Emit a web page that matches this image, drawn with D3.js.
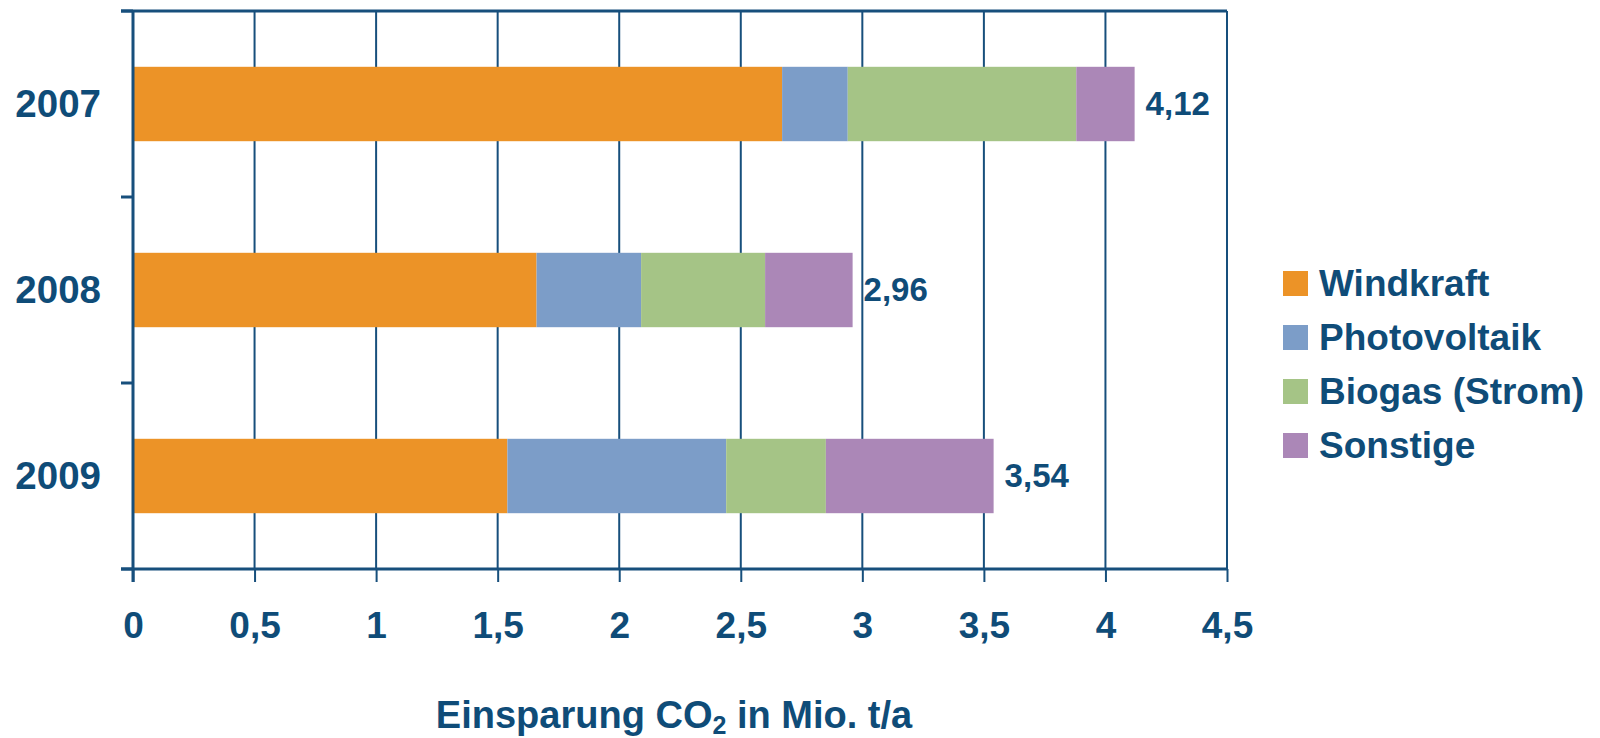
<!DOCTYPE html>
<html>
<head>
<meta charset="utf-8">
<script src="https://cdn.jsdelivr.net/npm/d3@7"></script>
<style>
  html, body { margin: 0; padding: 0; background: #ffffff; }
  svg { display: block; }
  text { font-family: "Liberation Sans", Arial, sans-serif; font-weight: bold; fill: #0f4c78; }
</style>
</head>
<body>
<svg id="chart" width="1600" height="738"></svg>
<script>
// Years shown on the vertical axis
const categories = ["2007", "2008", "2009"];
// CO2 savings per source, million t/a
const seriesNames = ["Windkraft", "Photovoltaik", "Biogas (Strom)", "Sonstige"];
const windkraft    = [2.67, 1.66, 1.54];
const photovoltaik = [0.27, 0.43, 0.90];
const biogas       = [0.94, 0.51, 0.41];
const sonstige     = [0.24, 0.36, 0.69];
// Total per year, printed at the end of each bar
const totals = [4.12, 2.96, 3.54];
// Horizontal axis ticks
const xTicks = [0, 0.5, 1, 1.5, 2, 2.5, 3, 3.5, 4, 4.5];
const seriesColors = ["#ec9327", "#7c9dc8", "#a5c486", "#ab87b7"];

const lineColor = "#174f7c";
const deLocale = d3.formatLocale({ decimal: ",", thousands: ".", grouping: [3], currency: ["", " €"] });
const fmtTick = v => deLocale.format("~g")(v);
const fmtTotal = deLocale.format(".2f");

const rows = categories.map((c, i) => ({
  year: c,
  "Windkraft": windkraft[i],
  "Photovoltaik": photovoltaik[i],
  "Biogas (Strom)": biogas[i],
  "Sonstige": sonstige[i]
}));

const plot = { left: 133, right: 1227, top: 11, bottom: 569 };
const svg = d3.select("#chart");

const x = d3.scaleLinear().domain([0, 4.5]).range([plot.left, plot.right]);
const y = d3.scaleBand().domain(categories).range([plot.top, plot.bottom])
  .paddingInner(0.6).paddingOuter(0.3);
const color = d3.scaleOrdinal().domain(seriesNames).range(seriesColors);

// Vertical grid lines
svg.append("g").selectAll("line").data(xTicks.slice(1)).join("line")
  .attr("x1", d => x(d)).attr("x2", d => x(d))
  .attr("y1", plot.top).attr("y2", plot.bottom)
  .attr("stroke", lineColor).attr("stroke-width", 2);

// Top frame line
svg.append("line")
  .attr("x1", plot.left - 12).attr("x2", plot.right)
  .attr("y1", plot.top).attr("y2", plot.top)
  .attr("stroke", lineColor).attr("stroke-width", 3);

// Stacked bars
const stacked = d3.stack().keys(seriesNames)(rows);
svg.append("g").selectAll("g").data(stacked).join("g")
  .attr("fill", d => color(d.key))
  .selectAll("rect").data(d => d).join("rect")
  .attr("x", d => x(d[0]))
  .attr("width", d => x(d[1]) - x(d[0]))
  .attr("y", d => y(d.data.year))
  .attr("height", y.bandwidth());

// Total labels
svg.append("g").selectAll("text").data(categories).join("text")
  .attr("x", (d, i) => x(totals[i]) + 11)
  .attr("y", d => y(d) + y.bandwidth() / 2)
  .attr("dy", "0.33em")
  .attr("font-size", 33)
  .text((d, i) => fmtTotal(totals[i]));

// Bottom axis
const xAxis = d3.axisBottom(x).tickValues(xTicks).tickFormat(fmtTick)
  .tickSizeInner(13).tickSizeOuter(0).tickPadding(30);
const gx = svg.append("g").attr("transform", `translate(0,${plot.bottom})`).call(xAxis);
gx.select(".domain").remove();
gx.selectAll(".tick line").attr("stroke", lineColor).attr("stroke-width", 2);
gx.selectAll(".tick text").attr("font-size", 37).attr("fill", "#0f4c78")
  .attr("font-family", "Liberation Sans, Arial, sans-serif").attr("font-weight", "bold")
  .attr("dy", "0.71em");
svg.append("line")
  .attr("x1", plot.left - 12).attr("x2", plot.right)
  .attr("y1", plot.bottom).attr("y2", plot.bottom)
  .attr("stroke", lineColor).attr("stroke-width", 3);

// Left axis with ticks between categories
const catEdges = d3.range(categories.length + 1).map(i => plot.top + i * (plot.bottom - plot.top) / categories.length);
svg.append("g").selectAll("line").data(catEdges).join("line")
  .attr("x1", plot.left - 12).attr("x2", plot.left)
  .attr("y1", d => d).attr("y2", d => d)
  .attr("stroke", lineColor).attr("stroke-width", 3);
svg.append("line")
  .attr("x1", plot.left).attr("x2", plot.left)
  .attr("y1", plot.top).attr("y2", plot.bottom + 13)
  .attr("stroke", lineColor).attr("stroke-width", 3);

// Year labels
svg.append("g").selectAll("text").data(categories).join("text")
  .attr("x", 101)
  .attr("y", d => y(d) + y.bandwidth() / 2)
  .attr("dy", "0.35em")
  .attr("text-anchor", "end")
  .attr("font-size", 38.5)
  .text(d => d);

// Axis title with subscript
const title = svg.append("text")
  .attr("x", (plot.left + plot.right) / 2 - 6)
  .attr("y", 728)
  .attr("text-anchor", "middle")
  .attr("font-size", 38);
title.append("tspan").text("Einsparung CO");
title.append("tspan").attr("font-size", 25).attr("dy", 6).text("2");
title.append("tspan").attr("dy", -6).text(" in Mio. t/a");

// Legend
const legend = svg.append("g").selectAll("g").data(seriesNames).join("g")
  .attr("transform", (d, i) => `translate(1283,${271 + i * 54})`);
legend.append("rect").attr("width", 25).attr("height", 25).attr("fill", d => color(d));
legend.append("text").attr("x", 36).attr("y", 24.5).attr("font-size", 37).text(d => d);
</script>
</body>
</html>
